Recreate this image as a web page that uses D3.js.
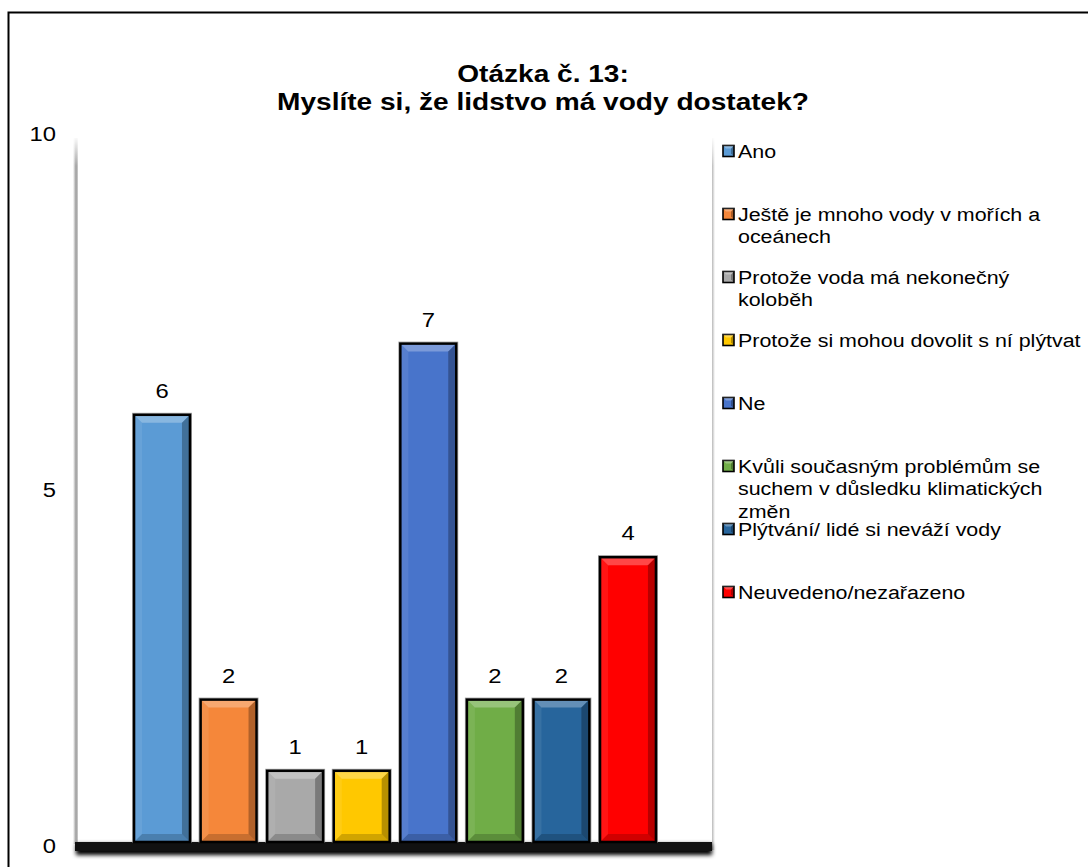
<!DOCTYPE html>
<html><head><meta charset="utf-8">
<script src="https://cdn.jsdelivr.net/npm/d3@7"></script>
<style>
html,body{margin:0;padding:0;background:#fff;}
svg{display:block;font-family:"Liberation Sans",Arial,sans-serif;}
</style></head>
<body><svg id="c" width="1088" height="867"></svg>
<script>
const titleLines = ["Otázka č. 13:", "Myslíte si, že lidstvo má vody dostatek?"];
const categories = [
  "Ano",
  "Ještě je mnoho vody v mořích a\noceánech",
  "Protože voda má nekonečný\nkoloběh",
  "Protože si mohou dovolit s ní plýtvat",
  "Ne",
  "Kvůli současným problémům se\nsuchem v důsledku klimatických\nzměn",
  "Plýtvání/ lidé si neváží vody",
  "Neuvedeno/nezařazeno"
];
const values = [6, 2, 1, 1, 7, 2, 2, 4];
const colors = ["#5B9BD5", "#F5873A", "#A9A9A9", "#FFC800", "#4874CB", "#70AD47", "#27659C", "#FF0000"];
const yTicks = [0, 5, 10];

const svg = d3.select("#c");
const W = 1088, H = 867;
const plot = {left: 78, right: 712, top: 130, bottom: 842};
const SX = 1.19; // horizontal stretch of text seen in the reference

const defs = svg.append("defs");
defs.append("filter").attr("id","blur").attr("x","-10%").attr("y","-100%").attr("width","120%").attr("height","300%")
  .append("feGaussianBlur").attr("stdDeviation", 2);
const wallG = defs.append("linearGradient").attr("id","wall").attr("x1",0).attr("x2",1);
wallG.append("stop").attr("offset",0).attr("stop-color","#ffffff");
wallG.append("stop").attr("offset",0.6).attr("stop-color","#9a9a9a");
wallG.append("stop").attr("offset",1).attr("stop-color","#d0d0d0");
const wallR = defs.append("linearGradient").attr("id","wallr").attr("x1",0).attr("x2",1);
wallR.append("stop").attr("offset",0).attr("stop-color","#b8b8b8");
wallR.append("stop").attr("offset",1).attr("stop-color","#ffffff");
const wallT = defs.append("linearGradient").attr("id","wallt").attr("x1",0).attr("x2",0).attr("y1",0).attr("y2",1);
wallT.append("stop").attr("offset",0).attr("stop-color","#fff").attr("stop-opacity",1);
wallT.append("stop").attr("offset",1).attr("stop-color","#fff").attr("stop-opacity",0);

// outer border
svg.append("rect").attr("x",8.5).attr("y",12.5).attr("width",W+20).attr("height",H+20)
  .attr("fill","#fff").attr("stroke","#000").attr("stroke-width",2);

const x = d3.scaleBand().domain(d3.range(values.length)).range([plot.left, plot.right])
  .paddingInner(0.16).paddingOuter(0.842);
const y = d3.scaleLinear().domain([0, 10]).range([plot.bottom, plot.top]);

// title
const tg = svg.append("g").attr("transform", `translate(543,0) scale(1.17,1)`);
tg.append("text").attr("text-anchor","middle")
  .attr("font-size", 24).attr("font-weight","bold")
  .selectAll("tspan").data(titleLines).join("tspan")
  .attr("x", 0).attr("y", (d,i) => 82 + i*28).text(d => d);

// walls
svg.append("rect").attr("x", plot.left-5).attr("y", y(10)+8).attr("width", 5)
  .attr("height", plot.bottom - y(10) - 6).attr("fill","url(#wall)");
svg.append("rect").attr("x", plot.left-5).attr("y", y(10)+6).attr("width", 5).attr("height", 30).attr("fill","url(#wallt)");
svg.append("rect").attr("x", plot.right).attr("y", y(10)+8).attr("width", 3)
  .attr("height", plot.bottom - y(10)).attr("fill","url(#wallr)");
svg.append("rect").attr("x", plot.right).attr("y", y(10)+6).attr("width", 3).attr("height", 30).attr("fill","url(#wallt)");

// floor
svg.append("rect").attr("x", plot.left-2).attr("y", plot.bottom+2).attr("width", plot.right - plot.left + 2)
  .attr("height", 11).attr("fill","#000").attr("filter","url(#blur)");
svg.append("rect").attr("x", plot.left-3).attr("y", plot.bottom).attr("width", plot.right - plot.left + 3)
  .attr("height", 9).attr("fill","#111");

// y axis labels
const yAxis = d3.axisLeft(y).tickValues(yTicks).tickSize(0).tickPadding(0).tickFormat(d3.format("d"));
const ya = svg.append("g").attr("transform", `translate(56,0)`).call(yAxis);
ya.select(".domain").remove();
ya.selectAll(".tick text").attr("font-size", 20).attr("fill","#000")
  .attr("font-family","'Liberation Sans',Arial,sans-serif").attr("dy","0.36em")
  .attr("x", 0).attr("transform", `translate(0,3) scale(${SX},1)`);

// bars
const b = 8;
const bars = svg.append("g").selectAll("g").data(values).join("g");
bars.each(function(v, i){
  const g = d3.select(this);
  const x0 = x(i), x1 = x(i) + x.bandwidth(), y0 = y(v), y1 = y(0);
  g.append("rect").attr("x", x0-1.5).attr("y", y0-1.5).attr("width", x1-x0+3).attr("height", y1-y0+1.5)
    .attr("fill","none").attr("stroke","#a0a0a0").attr("stroke-width",1);
  g.append("rect").attr("x", x0).attr("y", y0).attr("width", x1-x0).attr("height", y1-y0).attr("fill", colors[i]);
  const bb = Math.min(b, (y1-y0)/2);
  g.append("polygon").attr("points", [[x0,y0],[x1,y0],[x1-bb,y0+bb],[x0+bb,y0+bb]].join(" "))
    .attr("fill","#fff").attr("opacity",0.28);
  g.append("polygon").attr("points", [[x1,y0],[x1,y1],[x1-bb,y1-bb],[x1-bb,y0+bb]].join(" "))
    .attr("fill","#000").attr("opacity",0.28);
  g.append("polygon").attr("points", [[x0,y1],[x1,y1],[x1-bb,y1-bb],[x0+bb,y1-bb]].join(" "))
    .attr("fill","#000").attr("opacity",0.18);
  g.append("polygon").attr("points", [[x0,y0],[x0+bb,y0+bb],[x0+bb,y1-bb],[x0,y1]].join(" "))
    .attr("fill","#fff").attr("opacity",0.08);
  g.append("rect").attr("x", x0).attr("y", y0).attr("width", x1-x0).attr("height", y1-y0)
    .attr("fill","none").attr("stroke","#000").attr("stroke-width",2.5);
  g.append("g").attr("transform", `translate(${(x0+x1)/2},${y0 - 17}) scale(${SX},1)`)
    .append("text").attr("text-anchor","middle").attr("font-size", 20).text(v);
});

// legend
const lx = 723, ly0 = 151, lstep = 63, lineH = 23;
const leg = svg.append("g").selectAll("g").data(categories).join("g")
  .attr("transform", (d,i) => `translate(${lx},${ly0 + i*lstep})`);
leg.each(function(d, i){
  const g = d3.select(this);
  const s = 11;
  g.append("rect").attr("x",0).attr("y",-s/2).attr("width",s).attr("height",s)
    .attr("fill", colors[i]).attr("stroke","#000").attr("stroke-width",1.6);
  g.append("polygon").attr("points", [[s,-s/2],[s,s/2],[s-3,s/2-3],[s-3,-s/2+3]].join(" ")).attr("fill","#000").attr("opacity",0.3);
  g.append("polygon").attr("points", [[0,-s/2],[s,-s/2],[s-3,-s/2+3],[3,-s/2+3]].join(" ")).attr("fill","#fff").attr("opacity",0.3);
  g.append("g").attr("transform", `translate(15,0) scale(${SX},1)`)
    .append("text").attr("font-size", 18).attr("fill","#000")
    .selectAll("tspan").data(d.split("\n")).join("tspan")
    .attr("x", 0).attr("y", (t,j) => 6.5 + j*lineH).text(t => t);
});
</script></body></html>
